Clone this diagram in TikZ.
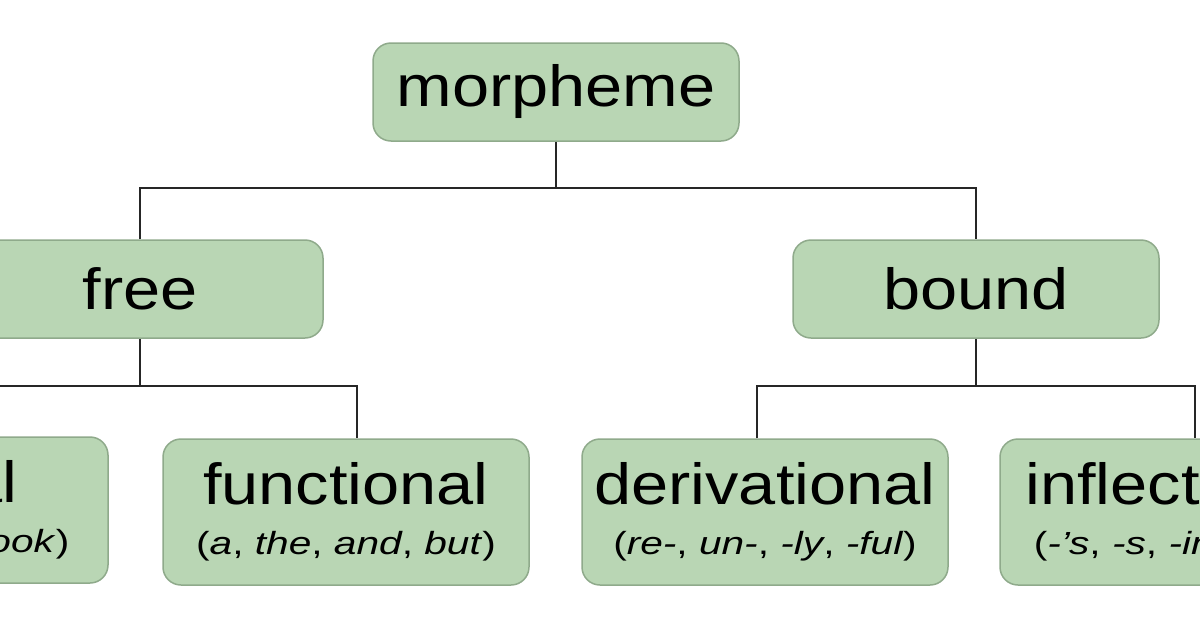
\documentclass[tikz,border=0pt]{standalone}
\usepackage{fontspec}
\setmainfont{Liberation Sans}
\begin{document}
\begin{tikzpicture}[x=1pt,y=-1pt,
  box/.style={draw=boxline,line width=1.5pt,fill=boxfill,rounded corners=18pt,inner sep=0pt,align=center},
  big/.style={box,minimum width=366pt,minimum height=98pt},
  small/.style={box,minimum width=366pt,minimum height=146pt,font=\fontsize{58}{56}\selectfont},
  conn/.style={draw=black!85,line width=2pt}]
\definecolor{boxfill}{HTML}{B9D6B4}
\definecolor{boxline}{HTML}{8FAA8B}
\newcommand\mainlbl[1]{\scalebox{1.15}[1]{\fontsize{58}{56}\selectfont #1}}
\newcommand\sublbl[1]{\scalebox{1.27}[1]{\fontsize{32}{32}\selectfont #1}}
\useasboundingbox (0,0) rectangle (1200,627);
\clip (0,0) rectangle (1200,627);
\fill[white] (0,0) rectangle (1200,627);
\node[big] (m) at (556,92) {\mainlbl{morpheme}};
\node[big] (f) at (140,289) {\mainlbl{free}};
\node[big] (b) at (976,289) {\mainlbl{bound}};
\node[small] (l) at (-75,510) {\mainlbl{lexical}\\[-6pt]\sublbl{(\textit{dog, run, book})}};
\node[small] (fn) at (346,512) {\mainlbl{functional}\\[-6pt]\sublbl{(\textit{a}, \textit{the}, \textit{and}, \textit{but})}};
\node[small] (d) at (765,512) {\mainlbl{derivational}\\[-6pt]\sublbl{(\textit{re-}, \textit{un-}, \textit{-ly}, \textit{-ful})}};
\node[small] (i) at (1183,512) {\mainlbl{inflectional}\\[-6pt]\sublbl{(\textit{-'s}, \textit{-s}, \textit{-ing}, \textit{-ed})}};
\coordinate (m1) at (556,188);
\coordinate (f1) at (140,386);
\coordinate (b1) at (976,386);
\draw[conn] (m.south) -- (m1);
\draw[conn] (f.north) |- (m1) -| (b.north);
\draw[conn] (f.south) -- (f1);
\draw[conn] (l.north -| -80,0) |- (f1) -| (fn.north -| 357,0);
\draw[conn] (b.south) -- (b1);
\draw[conn] (d.north -| 757,0) |- (b1) -| (i.north -| 1195,0);
\end{tikzpicture}
\end{document}
